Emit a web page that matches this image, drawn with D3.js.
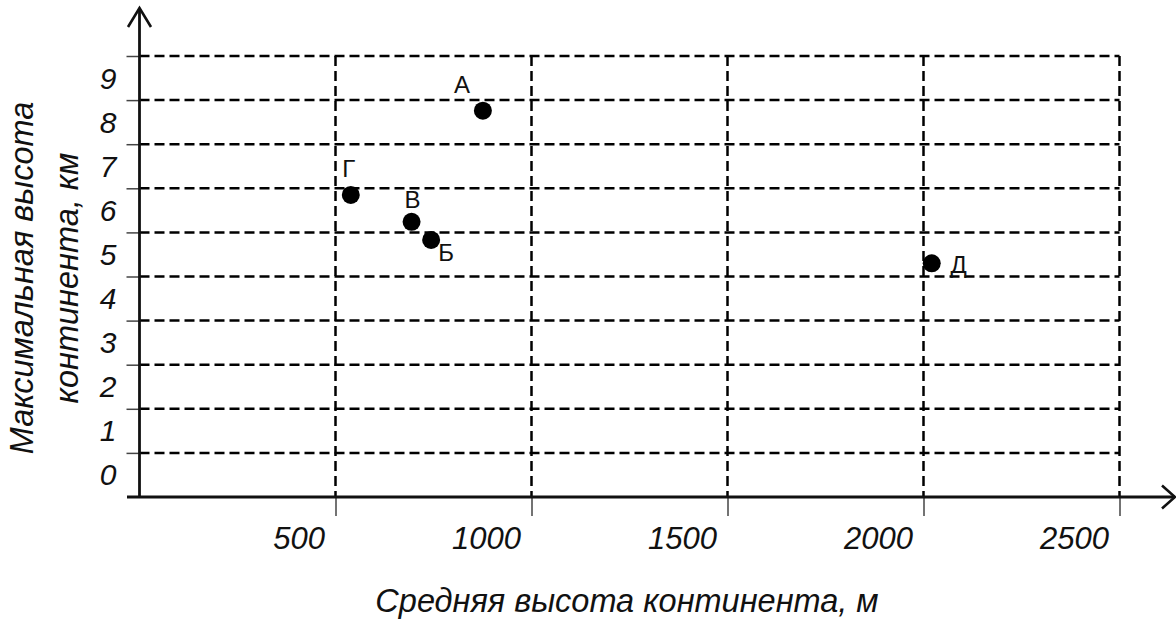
<!DOCTYPE html>
<html>
<head>
<meta charset="utf-8">
<script src="https://cdn.jsdelivr.net/npm/d3@7"></script>
<style>
  html, body { margin: 0; padding: 0; background: #fff; }
  svg { display: block; }
  text { font-family: "Liberation Sans", Arial, sans-serif; fill: #111; }
</style>
</head>
<body>
<svg id="chart" width="1176" height="619"></svg>
<script>
// ---- data ----
const continents = ["А", "Б", "В", "Г", "Д"];
const meanHeight = [876, 744, 694, 539, 2021];       // м
const maxHeight  = [8.76, 5.83, 6.24, 6.85, 5.30];    // км
const xTicks = [500, 1000, 1500, 2000, 2500];
const yGridValues = [1, 2, 3, 4, 5, 6, 7, 8, 9, 10];
const yTickLabels = [0, 1, 2, 3, 4, 5, 6, 7, 8, 9];
const xTitle = "Средняя высота континента, м";
const yTitleLines = ["Максимальная высота", "континента, км"];

// label placement (style only)
const labelOffset = { "А": [-21, -18], "Б": [15, 21], "В": [1, -14], "Г": [-2, -18], "Д": [27, 10] };

const svg = d3.select("#chart");
const x = d3.scaleLinear().domain([0, 2500]).range([139.5, 1119.5]);
const y = d3.scaleLinear().domain([0, 10]).range([497, 56]);

const dash = "10,5";

// horizontal grid
svg.append("g").selectAll("line").data(yGridValues).join("line")
  .attr("x1", x(0)).attr("x2", x(2500))
  .attr("y1", d => y(d)).attr("y2", d => y(d))
  .attr("stroke", "#000").attr("stroke-width", 2.5).attr("stroke-dasharray", dash);

// vertical grid
svg.append("g").selectAll("line").data(xTicks).join("line")
  .attr("x1", d => x(d)).attr("x2", d => x(d))
  .attr("y1", y(10)).attr("y2", y(0))
  .attr("stroke", "#000").attr("stroke-width", 2.5).attr("stroke-dasharray", dash);

// x axis ticks + labels
const xAxis = d3.axisBottom(x).tickValues(xTicks).tickSize(19).tickSizeOuter(0).tickFormat(d3.format("d"));
const gx = svg.append("g").attr("transform", `translate(0,${y(0)})`).call(xAxis);
gx.select(".domain").remove();
gx.selectAll(".tick line").attr("stroke", "#444").attr("stroke-width", 1.5);
gx.selectAll(".tick text")
  .attr("text-anchor", "end").attr("x", -11).attr("y", 52).attr("dy", 0)
  .style("font-family", "'Liberation Sans', Arial, sans-serif")
  .style("font-style", "italic").style("font-size", "31px").attr("fill", "#111");

// y axis tick marks
const yAxis = d3.axisLeft(y).tickValues(yGridValues).tickSize(13).tickSizeOuter(0).tickFormat("");
const gy = svg.append("g").attr("transform", `translate(${x(0)},0)`).call(yAxis);
gy.select(".domain").remove();
gy.selectAll(".tick line").attr("stroke", "#444").attr("stroke-width", 1.5);

// y tick labels (centred in bands)
svg.append("g").selectAll("text").data(yTickLabels).join("text")
  .attr("x", 108).attr("y", d => y(d + 0.5))
  .attr("text-anchor", "middle").attr("dominant-baseline", "central")
  .style("font-style", "italic").style("font-size", "30px")
  .text(d => d);

// axes lines with arrows
svg.append("line").attr("x1", x(0)).attr("x2", x(0)).attr("y1", y(0) + 1).attr("y2", 8)
  .attr("stroke", "#111").attr("stroke-width", 2.8);
svg.append("line").attr("x1", 127).attr("x2", 1175).attr("y1", y(0)).attr("y2", y(0))
  .attr("stroke", "#111").attr("stroke-width", 2.8);
svg.append("path")
  .attr("d", `M${x(0) - 11.5},27 L${x(0)},8 L${x(0) + 11.5},27`)
  .attr("fill", "none").attr("stroke", "#111").attr("stroke-width", 2.6);
svg.append("path")
  .attr("d", `M1162,${y(0) - 11.5} L1175,${y(0)} L1162,${y(0) + 11.5}`)
  .attr("fill", "none").attr("stroke", "#111").attr("stroke-width", 2.6);

// points
const pts = continents.map((c, i) => ({ c, xv: meanHeight[i], yv: maxHeight[i] }));
svg.append("g").selectAll("circle").data(pts).join("circle")
  .attr("cx", d => x(d.xv)).attr("cy", d => y(d.yv)).attr("r", 9).attr("fill", "#000");

svg.append("g").selectAll("text").data(pts).join("text")
  .attr("x", d => x(d.xv) + labelOffset[d.c][0])
  .attr("y", d => y(d.yv) + labelOffset[d.c][1])
  .attr("text-anchor", "middle")
  .style("font-size", "24px")
  .text(d => d.c);

// titles
svg.append("text").attr("x", 627).attr("y", 612).attr("text-anchor", "middle")
  .style("font-style", "italic").style("font-size", "32.5px").text(xTitle);

const yt = svg.append("text").attr("transform", "translate(0,278) rotate(-90)")
  .attr("text-anchor", "middle").style("font-style", "italic").style("font-size", "32.5px");
yt.selectAll("tspan").data(yTitleLines).join("tspan")
  .attr("x", 0).attr("y", (d, i) => 33 + i * 45).text(d => d);
</script>
</body>
</html>
